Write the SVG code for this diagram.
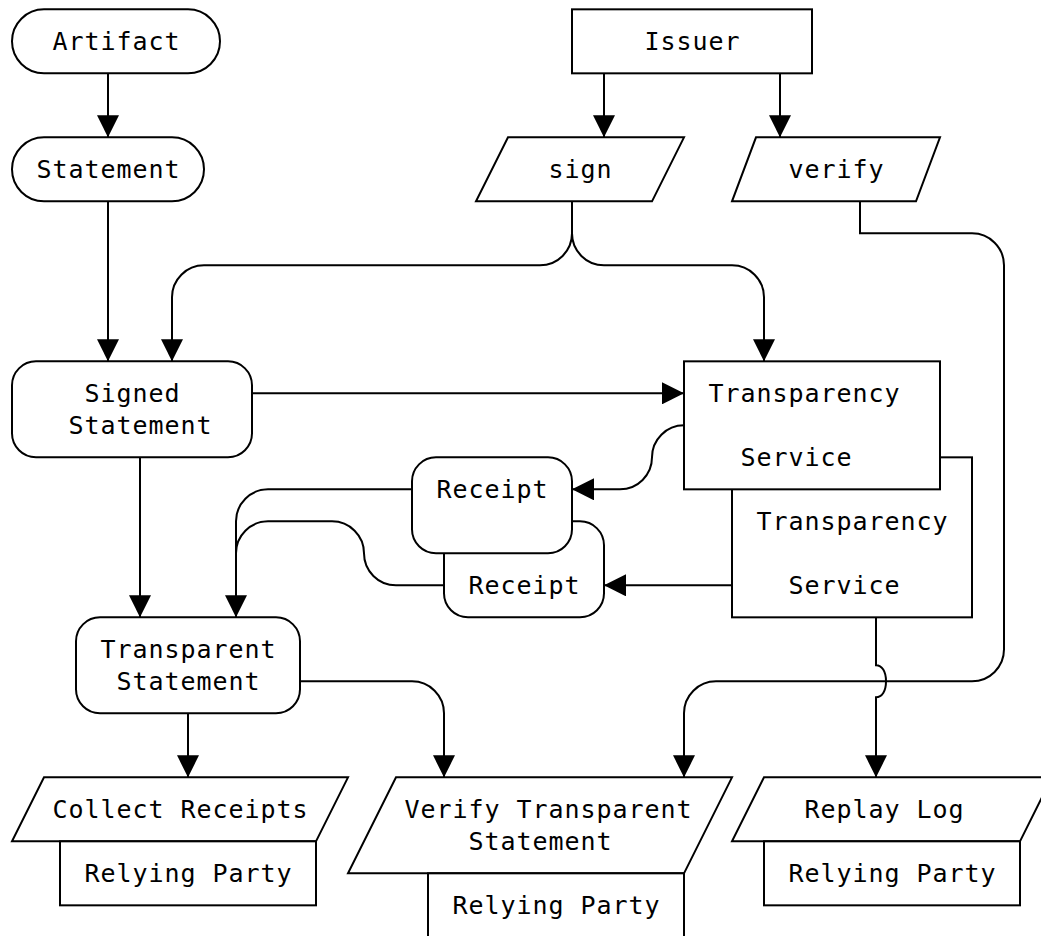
<svg xmlns="http://www.w3.org/2000/svg" width="1041" height="936" viewBox="0 0 1041 936">
<style>
  .n { fill: #fff; stroke: #000; stroke-width: 2; }
  .c { fill: none; stroke: #000; stroke-width: 2; }
  .ca { fill: none; stroke: #000; stroke-width: 2; marker-end: url(#ah); }
  text { font-family: "DejaVu Sans Mono", "Liberation Mono", monospace; font-size: 25px; letter-spacing: 0.95px; fill: #000; text-anchor: middle; }
</style>
<defs>
  <marker id="ah" viewBox="0 0 22 22" refX="22" refY="11" markerWidth="22" markerHeight="22" markerUnits="userSpaceOnUse" orient="auto">
    <path d="M0,0 L22,11 L0,22 z" fill="#000"/>
  </marker>
</defs>
<rect width="1041" height="936" fill="#fff"/>
<g id="connectors">
  <path class="ca" d="M108,73.33 V137.33"/>
  <path class="ca" d="M108,201.33 V361.33"/>
  <path class="ca" d="M604,73.33 V137.33"/>
  <path class="ca" d="M780,73.33 V137.33"/>
  <path class="ca" d="M572,201.33 V233.33 A32,32 0 0 1 540,265.33 H204 A32,32 0 0 0 172,297.33 V361.33"/>
  <path class="ca" d="M572,233.33 A32,32 0 0 0 604,265.33 H732 A32,32 0 0 1 764,297.33 V361.33"/>
  <path class="ca" d="M860,201.33 V233.33 H972 A32,32 0 0 1 1004,265.33 V649.33 A32,32 0 0 1 972,681.33 H716 A32,32 0 0 0 684,713.33 V777.33"/>
  <path class="ca" d="M252,393.33 H684"/>
  <path class="ca" d="M684,425.33 A32,32 0 0 0 652,457.33 A32,32 0 0 1 620,489.33 H572"/>
  <path class="ca" d="M732,585.33 H604"/>
  <path class="ca" d="M412,489.33 H268 A32,32 0 0 0 236,521.33 V617.33"/>
  <path class="c" d="M444,585.33 H396 A32,32 0 0 1 364,553.33 A32,32 0 0 0 332,521.33 H268 A32,32 0 0 0 236,553.33"/>
  <path class="ca" d="M140,457.33 V617.33"/>
  <path class="ca" d="M188,713.33 V777.33"/>
  <path class="ca" d="M300,681.33 H412 A32,32 0 0 1 444,713.33 V777.33"/>
  <path class="ca" d="M876,617.33 V665.33 c6,0 10,6 10,16 s-4,16 -10,16 V777.33"/>
</g>
<g id="artifact"><rect class="n" x="12" y="9.33" width="208" height="64" rx="32"/><text x="116.5" y="50">Artifact</text></g>
<g id="statement"><rect class="n" x="12" y="137.33" width="192" height="64" rx="32"/><text x="108.5" y="178">Statement</text></g>
<g id="issuer"><rect class="n" x="572" y="9.33" width="240" height="64"/><text x="692.5" y="50">Issuer</text></g>
<g id="sign"><polygon class="n" points="508,137.33 684,137.33 652,201.33 476,201.33"/><text x="580.5" y="178">sign</text></g>
<g id="verify"><polygon class="n" points="756,137.33 940,137.33 916,201.33 732,201.33"/><text x="836.5" y="178">verify</text></g>
<g id="signed-statement"><rect class="n" x="12" y="361.33" width="240" height="96" rx="24"/><text x="132.5" y="402">Signed</text><text x="140.5" y="434">Statement</text></g>
<g id="transparency-service-2"><rect class="n" x="732" y="457.33" width="240" height="160"/><text x="852.5" y="530">Transparency</text><text x="844.5" y="594">Service</text></g>
<g id="transparency-service-1"><rect class="n" x="684" y="361.33" width="256" height="128"/><text x="804.5" y="402">Transparency</text><text x="796.5" y="466">Service</text></g>
<g id="receipt-2"><rect class="n" x="444" y="521.33" width="160" height="96" rx="24"/><text x="524.5" y="594">Receipt</text></g>
<g id="receipt-1"><rect class="n" x="412" y="457.33" width="160" height="96" rx="24"/><text x="492.5" y="498">Receipt</text></g>
<g id="transparent-statement"><rect class="n" x="76" y="617.33" width="224" height="96" rx="24"/><text x="188.5" y="658">Transparent</text><text x="188.5" y="690">Statement</text></g>
<g id="collect-receipts"><polygon class="n" points="44,777.33 348,777.33 316,841.33 12,841.33"/><text x="180.5" y="818">Collect Receipts</text></g>
<g id="relying-party-1"><rect class="n" x="60" y="841.33" width="256" height="64"/><text x="188.5" y="882">Relying Party</text></g>
<g id="verify-transparent-statement"><polygon class="n" points="396,777.33 732,777.33 684,873.33 348,873.33"/><text x="548.5" y="818">Verify Transparent</text><text x="540.5" y="850">Statement</text></g>
<g id="relying-party-2"><rect class="n" x="428" y="873.33" width="256" height="80"/><text x="556.5" y="914">Relying Party</text></g>
<g id="replay-log"><polygon class="n" points="764,777.33 1052,777.33 1020,841.33 732,841.33"/><text x="884.5" y="818">Replay Log</text></g>
<g id="relying-party-3"><rect class="n" x="764" y="841.33" width="256" height="64"/><text x="892.5" y="882">Relying Party</text></g>
</svg>
